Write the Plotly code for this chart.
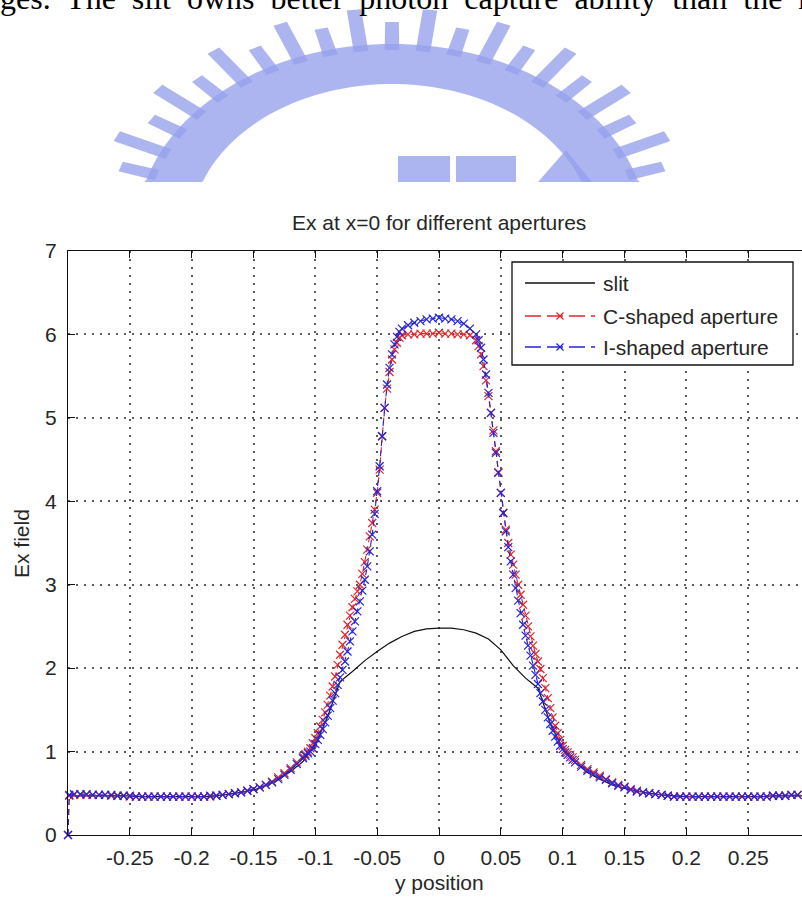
import math
import plotly.graph_objects as go

# ---------------------------------------------------------------- data
# sample positions (y position) shared by the two aperture curves
pos = [
    -0.3, -0.299,
    -0.295, -0.29, -0.285, -0.28, -0.275, -0.27, -0.265, -0.26, -0.255, -0.25,
    -0.245, -0.24, -0.235, -0.23, -0.225, -0.22, -0.215, -0.21, -0.205, -0.2,
    -0.195, -0.19, -0.185, -0.18, -0.175, -0.17, -0.165, -0.16, -0.155, -0.15,
    -0.145, -0.14, -0.135, -0.13, -0.125, -0.12, -0.115,
    -0.11, -0.108, -0.106, -0.104, -0.102, -0.1, -0.098, -0.096, -0.094, -0.092,
    -0.09, -0.088, -0.086, -0.084, -0.082, -0.08, -0.078, -0.076, -0.074, -0.072,
    -0.07, -0.068, -0.066, -0.064, -0.062, -0.06, -0.058, -0.056, -0.054, -0.052,
    -0.05, -0.048, -0.046, -0.044, -0.042, -0.04, -0.038, -0.036, -0.034, -0.032,
    -0.03,
    -0.025, -0.02, -0.015, -0.01, -0.005, 0.0, 0.005, 0.01, 0.015, 0.02, 0.025,
    0.03, 0.032, 0.034, 0.036, 0.038, 0.04, 0.042, 0.044, 0.046, 0.048,
    0.05, 0.052, 0.054, 0.056, 0.058, 0.06, 0.062, 0.064, 0.066, 0.068,
    0.07, 0.072, 0.074, 0.076, 0.078, 0.08, 0.082, 0.084, 0.086, 0.088,
    0.09, 0.092, 0.094, 0.096, 0.098, 0.1, 0.102, 0.104, 0.106, 0.108,
    0.11,
    0.115, 0.12, 0.125, 0.13, 0.135, 0.14, 0.145, 0.15, 0.155, 0.16,
    0.165, 0.17, 0.175, 0.18, 0.185, 0.19, 0.195, 0.2, 0.205, 0.21,
    0.215, 0.22, 0.225, 0.23, 0.235, 0.24, 0.245, 0.25, 0.255, 0.26,
    0.265, 0.27, 0.275, 0.28, 0.285, 0.29, 0.295, 0.3,
]

c_shaped = [
    0.0, 0.47,
    0.48, 0.48, 0.48, 0.48, 0.48, 0.48, 0.47, 0.47, 0.47, 0.46,
    0.46, 0.46, 0.46, 0.46, 0.46, 0.46, 0.46, 0.46, 0.46, 0.46,
    0.46, 0.46, 0.46, 0.47, 0.48, 0.49, 0.5, 0.51, 0.53, 0.55,
    0.57, 0.6, 0.64, 0.69, 0.74, 0.8, 0.87,
    0.94, 0.97, 1.0, 1.04, 1.1, 1.16, 1.22, 1.3, 1.38, 1.47,
    1.56, 1.67, 1.78, 1.9, 2.04, 2.16, 2.28, 2.4, 2.52, 2.63,
    2.73, 2.83, 2.92, 3.0, 3.13, 3.27, 3.42, 3.58, 3.74, 3.9,
    4.1, 4.38, 4.78, 5.12, 5.35, 5.55, 5.7, 5.82, 5.9, 5.96,
    5.99,
    6.0, 6.0, 6.01, 6.01, 6.01, 6.02, 6.01, 6.01, 6.0, 6.0, 5.99,
    5.93, 5.86, 5.76, 5.62, 5.45, 5.26, 5.06, 4.85, 4.6, 4.35,
    4.1, 3.86, 3.66, 3.5, 3.36, 3.24, 3.12, 3.0, 2.88, 2.76,
    2.63, 2.5, 2.38, 2.27, 2.17, 2.08, 1.99, 1.88, 1.76, 1.64,
    1.52, 1.41, 1.31, 1.22, 1.14, 1.07, 1.02, 0.99, 0.96, 0.93,
    0.9,
    0.84, 0.79, 0.75, 0.71, 0.67, 0.63, 0.6, 0.58, 0.55, 0.53,
    0.51, 0.5, 0.49, 0.48, 0.47, 0.46, 0.46, 0.46, 0.46, 0.46,
    0.46, 0.46, 0.46, 0.46, 0.46, 0.46, 0.46, 0.46, 0.46, 0.46,
    0.46, 0.47, 0.47, 0.47, 0.48, 0.48, 0.48, 0.48,
]

i_shaped = [
    0.0, 0.48,
    0.49, 0.49, 0.49, 0.48, 0.48, 0.48, 0.48, 0.47, 0.47, 0.47,
    0.46, 0.46, 0.46, 0.46, 0.46, 0.46, 0.46, 0.46, 0.46, 0.46,
    0.46, 0.46, 0.47, 0.47, 0.48, 0.49, 0.5, 0.51, 0.53, 0.55,
    0.57, 0.6, 0.63, 0.67, 0.72, 0.78, 0.85,
    0.92, 0.95, 0.98, 1.0, 1.04, 1.09, 1.14, 1.2, 1.27, 1.35,
    1.43, 1.52, 1.61, 1.7, 1.8, 1.89, 1.98, 2.08, 2.2, 2.32,
    2.44, 2.56, 2.68, 2.8, 2.93, 3.06, 3.22, 3.4, 3.6, 3.85,
    4.12, 4.42, 4.78, 5.12, 5.4, 5.6, 5.76, 5.88, 5.97, 6.03,
    6.07,
    6.11, 6.14, 6.16, 6.18, 6.19, 6.2, 6.19, 6.18, 6.16, 6.13, 6.07,
    6.0, 5.93, 5.84, 5.7, 5.52, 5.3, 5.06, 4.82, 4.58, 4.34,
    4.1, 3.86, 3.64, 3.45, 3.28, 3.12, 2.96, 2.81, 2.66, 2.52,
    2.39, 2.27, 2.15, 2.03, 1.92, 1.81, 1.7, 1.6, 1.5, 1.41,
    1.33, 1.25, 1.18, 1.12, 1.07, 1.03, 0.99, 0.96, 0.93, 0.9,
    0.87,
    0.82, 0.77, 0.73, 0.69, 0.66, 0.62, 0.59, 0.57, 0.54, 0.52,
    0.51, 0.5, 0.49, 0.48, 0.47, 0.46, 0.46, 0.46, 0.46, 0.46,
    0.46, 0.46, 0.46, 0.46, 0.46, 0.46, 0.46, 0.46, 0.46, 0.46,
    0.46, 0.47, 0.47, 0.47, 0.48, 0.48, 0.48, 0.48,
]

slit_pos = [
    -0.3, -0.29, -0.28, -0.27, -0.26, -0.25, -0.24, -0.23, -0.22, -0.21,
    -0.2, -0.19, -0.18, -0.17, -0.16, -0.15, -0.14, -0.13, -0.12, -0.11,
    -0.1, -0.09, -0.08, -0.07, -0.06, -0.05, -0.04, -0.03, -0.02, -0.01,
    0.0, 0.01, 0.02, 0.03, 0.04, 0.05, 0.06, 0.07, 0.08, 0.09,
    0.1, 0.11, 0.12, 0.13, 0.14, 0.15, 0.16, 0.17, 0.18, 0.19,
    0.2, 0.21, 0.22, 0.23, 0.24, 0.25, 0.26, 0.27, 0.28, 0.29, 0.3,
]
slit = [
    0.47, 0.47, 0.47, 0.47, 0.47, 0.47, 0.46, 0.46, 0.46, 0.46,
    0.46, 0.46, 0.47, 0.49, 0.51, 0.54, 0.59, 0.66, 0.76, 0.88,
    1.08, 1.42, 1.84, 1.96, 2.09, 2.2, 2.3, 2.38, 2.44, 2.47,
    2.48, 2.48, 2.46, 2.42, 2.35, 2.22, 2.03, 1.88, 1.76, 1.34,
    1.04, 0.87, 0.75, 0.67, 0.6, 0.56, 0.53, 0.5, 0.48, 0.47,
    0.46, 0.46, 0.46, 0.46, 0.46, 0.46, 0.46, 0.47, 0.47, 0.47, 0.47,
]

x_ticks = [-0.25, -0.2, -0.15, -0.1, -0.05, 0, 0.05, 0.1, 0.15, 0.2, 0.25]
x_tick_text = ["-0.25", "-0.2", "-0.15", "-0.1", "-0.05", "0", "0.05", "0.1", "0.15", "0.2", "0.25"]
y_ticks = [0, 1, 2, 3, 4, 5, 6, 7]
y_tick_text = ["0", "1", "2", "3", "4", "5", "6", "7"]

series_names = ["slit", "C-shaped aperture", "I-shaped aperture"]
series_colors = ["#111111", "#e3262b", "#2424d8"]

# ---------------------------------------------------------------- layout geometry (pixels)
W, H = 802, 897
PL, PR, PT, PB = 68, 802, 251, 835          # plot area edges
SANS = "Liberation Sans, Arial, sans-serif"
SERIF = "Liberation Serif, Times New Roman, serif"
TXT = "#262626"


def px_x(v):
    return (v - PL) / (PR - PL)


def px_y(v):
    return (PB - v) / (PB - PT)


def pt(x, y):
    return f"{px_x(x):.5f},{px_y(y):.5f}"


fig = go.Figure()

fig.add_trace(go.Scatter(
    x=slit_pos, y=slit, mode="lines", name=series_names[0],
    line=dict(color=series_colors[0], width=1.2),
))
for name, vals, col in [(series_names[1], c_shaped, series_colors[1]),
                        (series_names[2], i_shaped, series_colors[2])]:
    fig.add_trace(go.Scatter(
        x=pos, y=vals, mode="lines+markers", name=name, cliponaxis=False,
        line=dict(color=col, width=1.1, dash="6px,4px"),
        marker=dict(symbol="x-thin", size=8, line=dict(color=col, width=1.2)),
    ))

shapes = []
annotations = []

# ---- faded emblem behind the page text
LOGO = "rgba(150,160,236,0.78)"
cx, cy, sx = 392, 232, 1.36
base = 182


def emb(r, ang):
    a = math.radians(ang)
    x = cx + sx * r * math.cos(a)
    y = min(cy - r * math.sin(a), base)
    return x, y


band = []
angs = [6 + i * 2 for i in range(85)]
for a in angs:
    band.append(emb(188, a))
for a in reversed(angs):
    band.append(emb(148, a))
path = "M " + " L ".join(pt(*p) for p in band) + " Z"
shapes.append(dict(type="path", path=path, xref="paper", yref="paper",
                   fillcolor=LOGO, line=dict(width=0), layer="below"))
n_teeth = 23
for k in range(n_teeth):
    a = 11 + k * (158 / (n_teeth - 1))
    tip = 224 if k % 2 == 0 else 210
    hw = 1.7
    quad = [emb(182, a - hw), emb(tip, a - hw * 0.8), emb(tip, a + hw * 0.8), emb(182, a + hw)]
    shapes.append(dict(type="path", path="M " + " L ".join(pt(*p) for p in quad) + " Z",
                       xref="paper", yref="paper", fillcolor=LOGO, line=dict(width=0),
                       layer="below"))
for (x0, y0, x1, y1) in [(398, 156, 450, 182), (456, 156, 516, 182)]:
    shapes.append(dict(type="rect", xref="paper", yref="paper",
                       x0=px_x(x0), x1=px_x(x1), y0=px_y(y1), y1=px_y(y0),
                       fillcolor=LOGO, line=dict(width=0), layer="below"))
tri = [(538, 182), (566, 150), (592, 182)]
shapes.append(dict(type="path", path="M " + " L ".join(pt(*p) for p in tri) + " Z",
                   xref="paper", yref="paper", fillcolor=LOGO, line=dict(width=0),
                   layer="below"))

# ---- running text of the page above the figure
annotations.append(dict(
    text="ges.  The  slit  owns  better  photon  capture  ability  than  the  r",
    xref="paper", yref="paper", x=px_x(-2), y=px_y(-2), xanchor="left", yanchor="middle",
    showarrow=False, font=dict(family=SERIF, size=32, color="#000000"),
))

# ---- title and axis labels
annotations.append(dict(text="Ex at x=0 for different apertures", xref="paper", yref="paper",
                        x=px_x(439), y=px_y(222), xanchor="center", yanchor="middle",
                        showarrow=False, font=dict(family=SANS, size=21, color=TXT)))
annotations.append(dict(text="y position", xref="paper", yref="paper",
                        x=px_x(439), y=px_y(883), xanchor="center", yanchor="middle",
                        showarrow=False, font=dict(family=SANS, size=21, color=TXT)))
annotations.append(dict(text="Ex field", xref="paper", yref="paper", textangle=-90,
                        x=px_x(21), y=px_y(544), xanchor="center", yanchor="middle",
                        showarrow=False, font=dict(family=SANS, size=21, color=TXT)))

# ---- legend box
LX0, LY0, LX1, LY1 = 512, 262, 793, 365
shapes.append(dict(type="rect", xref="paper", yref="paper",
                   x0=px_x(LX0), x1=px_x(LX1), y0=px_y(LY1), y1=px_y(LY0),
                   fillcolor="white", line=dict(color="#111111", width=1.3)))
rows = [283, 316, 347]
for i, (name, col, ry) in enumerate(zip(series_names, series_colors, rows)):
    shapes.append(dict(type="line", xref="paper", yref="paper",
                       x0=px_x(525), x1=px_x(595), y0=px_y(ry), y1=px_y(ry),
                       line=dict(color=col, width=1.3, dash="solid" if i == 0 else "16px,6px")))
    if i > 0:
        for dy in (-3.5, 3.5):
            shapes.append(dict(type="line", xref="paper", yref="paper",
                               x0=px_x(556.5), x1=px_x(563.5),
                               y0=px_y(ry + dy), y1=px_y(ry - dy),
                               line=dict(color=col, width=1.3)))
    annotations.append(dict(text=name, xref="paper", yref="paper",
                            x=px_x(601), y=px_y(ry), xanchor="left", yanchor="middle",
                            showarrow=False, font=dict(family=SANS, size=21, color=TXT)))

grid = dict(showgrid=True, gridcolor="#5a5a5a", gridwidth=1.5, griddash="2px,6px")

fig.update_layout(
    width=W, height=H,
    margin=dict(l=PL, r=W - PR, t=PT, b=H - PB, pad=0),
    paper_bgcolor="white", plot_bgcolor="white",
    showlegend=False,
    shapes=shapes, annotations=annotations,
    xaxis=dict(range=[-0.3, -0.3 + (PR - PL) / ((439 - PL) / 0.3)],
               tickmode="array", tickvals=x_ticks, ticktext=x_tick_text,
               ticks="inside", ticklen=7, tickwidth=1.2, tickcolor="#111111",
               showline=True, linecolor="#111111", linewidth=1.3, mirror="ticks",
               zeroline=False, ticklabelstandoff=4,
               tickfont=dict(family=SANS, size=21, color=TXT), **grid),
    yaxis=dict(range=[0, 7],
               tickmode="array", tickvals=y_ticks, ticktext=y_tick_text,
               ticks="inside", ticklen=7, tickwidth=1.2, tickcolor="#111111",
               showline=True, linecolor="#111111", linewidth=1.3, mirror=False,
               zeroline=False, ticklabelstandoff=6,
               tickfont=dict(family=SANS, size=21, color=TXT), **grid),
)

fig.write_html("out.html")
